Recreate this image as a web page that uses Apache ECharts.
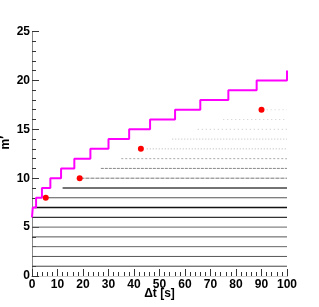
<!DOCTYPE html>
<html><head><meta charset="utf-8">
<script src="https://cdn.jsdelivr.net/npm/echarts@6/dist/echarts.min.js"></script>
<style>html,body{margin:0;padding:0;background:#fff}#c{width:319px;height:307px}</style>
</head><body><div id="c"></div>
<script>
// Step curve (Δt where m' reaches the level)
const stepDt = [0, 0.3, 1.6, 3.9, 7.2, 11.4, 16.6, 22.9, 30.0, 38.1, 46.3, 56.1, 66.0, 77.0, 88.1, 100];
const stepM  = [6, 7, 8, 9, 10, 11, 12, 13, 14, 15, 16, 17, 18, 19, 20, 21];
// Red markers
const dotDt = [5.4, 18.7, 42.7, 90.0];
const dotM  = [8, 10, 13, 17];
// Horizontal point bands: level and first Δt where it appears
const bandM     = [1, 2, 3, 4, 5, 6, 7, 8, 9, 10, 11, 12, 13, 14, 15, 16, 17];
const bandStart = [0, 0, 0, 0, 0, 0, 1, 6, 12, 19, 27, 35, 45, 55, 65, 75, 92];
const xTicks = [0, 10, 20, 30, 40, 50, 60, 70, 80, 90, 100];
const yTicks = [0, 5, 10, 15, 20, 25];

// band appearance (style, by index)
const bandColor = ['#444','#555','#666','#555','#666','#333','#111','#555','#444','#777','#888','#aaa','#b4b4b4','#bbb','#c4c4c4','#ccc','#d0d0d0'];
const bandWidth = [1,1,1,1,1,1.3,1.6,1,1.3,1,1,1,1,1,1,1,1];
const bandDash  = ['solid','solid','solid','solid','solid','solid','solid','solid','solid',[4,1],[3,1],[2,2],[1,2],[1,2],[1,3],[1,3],[1,3]];

const font = 'Liberation Sans, Arial, Helvetica, sans-serif';
const chart = echarts.init(document.getElementById('c'), null, {renderer:'canvas'});
const series = [];
bandM.forEach((m, i) => {
  series.push({
    type: 'line', silent: true, symbol: 'none', animation: false,
    data: [[bandStart[i], m], [100, m]],
    lineStyle: { color: bandColor[i], width: bandWidth[i], type: bandDash[i] },
    z: 1
  });
});
series.push({
  type: 'line', step: 'end', symbol: 'none', animation: false,
  data: stepDt.map((x, i) => [x, stepM[i]]),
  lineStyle: { color: '#ff00ff', width: 2 }, z: 3
});
series.push({
  type: 'scatter', symbol: 'circle', symbolSize: 6, animation: false,
  data: dotDt.map((x, i) => [x, dotM[i]]),
  itemStyle: { color: '#ff0000', opacity: 1 }, z: 4
});

const labelStyle = { color: '#000', fontSize: 12, fontWeight: 'bold', fontFamily: font };
chart.setOption({
  animation: false,
  grid: { left: 32, right: 32, top: 31.5, bottom: 31, containLabel: false, outerBoundsMode: 'none' },
  xAxis: [{
    type: 'value', min: 0, max: 100, interval: 10,
    name: 'Δt [s]', nameLocation: 'middle', nameGap: 12, nameMoveOverlap: false,
    nameTextStyle: { color: '#000', fontSize: 12, fontWeight: 'bold', fontFamily: font },
    axisLine: { lineStyle: { color: '#333', width: 1 } },
    axisTick: { inside: true, length: 7, lineStyle: { color: '#333' } },
    minorTick: { show: true, splitNumber: 5, length: 4, lineStyle: { color: '#333' } },
    axisLabel: Object.assign({ margin: 3, formatter: v => xTicks.includes(v) ? String(v) : '' }, labelStyle),
    splitLine: { show: false }
  }, {
    type: 'value', min: 0, max: 100, position: 'top',
    axisLine: { show: true, lineStyle: { color: '#ccc' } },
    axisTick: { show: false }, axisLabel: { show: false }, splitLine: { show: false }
  }],
  yAxis: [{
    type: 'value', min: 0, max: 25, interval: 5,
    name: 'm′', nameLocation: 'middle', nameGap: 20, nameRotate: 90, nameMoveOverlap: false,
    nameTextStyle: { color: '#000', fontSize: 12, fontWeight: 'bold', fontFamily: font, padding: [0, 0, 0, 22] },
    axisLine: { show: true, lineStyle: { color: '#333', width: 1 } },
    axisTick: { show: true, inside: true, length: 7, lineStyle: { color: '#333' } },
    minorTick: { show: true, splitNumber: 5, length: 4, lineStyle: { color: '#333' } },
    axisLabel: Object.assign({ margin: 2, formatter: v => yTicks.includes(v) ? String(v) : '' }, labelStyle),
    splitLine: { show: false }
  }, {
    type: 'value', min: 0, max: 25, position: 'right',
    axisLine: { show: true, lineStyle: { color: '#888' } },
    axisTick: { show: false }, axisLabel: { show: false }, splitLine: { show: false }
  }],
  series: series
});
</script></body></html>
